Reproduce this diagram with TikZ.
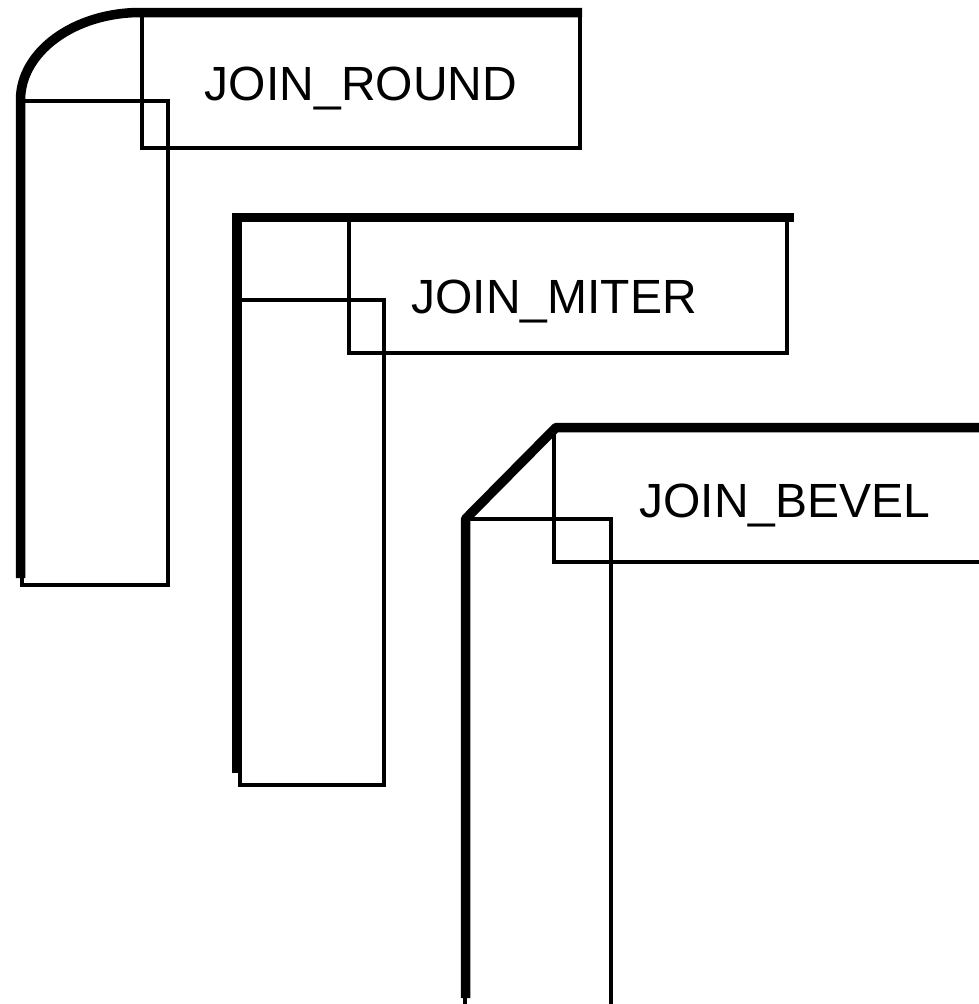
\documentclass[tikz,border=0pt]{standalone}
\usepackage{fontspec}
\setmainfont{Liberation Sans}
\tikzset{
	thin edge/.style = {line width = 4.5pt},
	thick edge/.style = {line width = 9.5pt},
	join label/.style = {anchor = base, font = \fontsize{48}{58}\selectfont, inner sep = 0pt}
}
\begin{document}
\begin{tikzpicture}[x = 1pt, y = -1pt]
	\useasboundingbox (0,0) rectangle (979,1004);
	\clip (0,0) rectangle (979,1004);

	% round
	\draw [thin edge] (142,12) rectangle (580,148);
	\draw [thin edge] (22,101) rectangle (168,585);
	\draw [thick edge, line join = round] (20.5,578) -- (20.5,100) arc [start angle = 180, end angle = 90, x radius = 120, y radius = -87.5] -- (582,12.5);
	\node (round)[join label] at (361,100) {JOIN\_ROUND};

	% miter
	\draw [thin edge] (349,217) rectangle (787,353);
	\draw [thin edge] (240,300) rectangle (384,785);
	\draw [thick edge, line join = miter] (237,773) -- (237,217.5) -- (794,217.5);
	\node (miter)[join label] at (554,313) {JOIN\_MITER};

	% bevel
	\draw [thin edge] (554,427) rectangle (995,562);
	\draw [thin edge] (465,519) rectangle (611,1010);
	\draw [thick edge, line join = bevel] (465.5,998) -- (465.5,519) -- (556,427.5) -- (995,427.5);
	\node (bevel)[join label] at (785,517) {JOIN\_BEVEL};
\end{tikzpicture}
\end{document}
